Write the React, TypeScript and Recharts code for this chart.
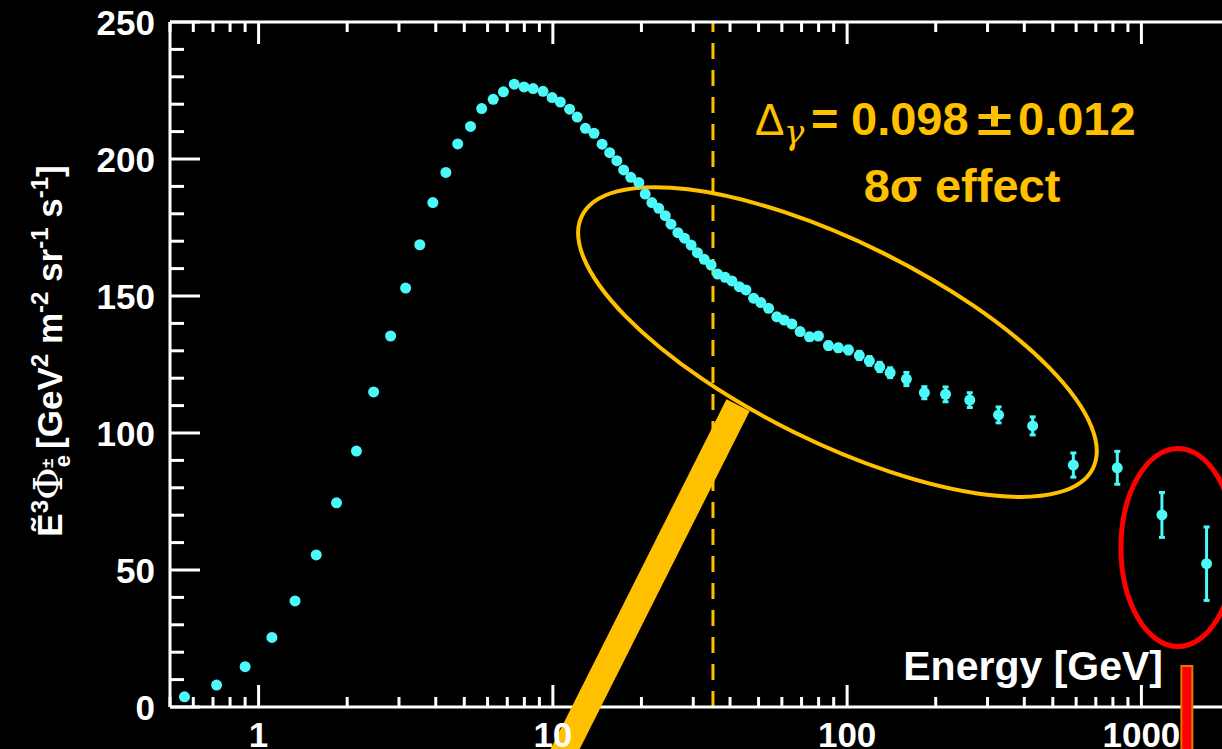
import { ComposedChart, Scatter, ErrorBar, XAxis, YAxis, ReferenceLine, ReferenceDot } from 'recharts';

const energies = [0.56, 0.72, 0.90, 1.11, 1.33, 1.57, 1.84, 2.15, 2.46, 2.81, 3.16, 3.53, 3.91, 4.33, 4.75, 5.25, 5.73, 6.27, 6.79, 7.39,
  7.98, 8.57, 9.26, 9.94, 10.6, 11.4, 12.1, 12.9, 13.8, 14.7, 15.6, 16.5, 17.4, 18.4, 19.6, 20.6, 21.7, 22.9, 24.1, 25.2,
  26.6, 28.0, 29.5, 31.0, 32.7, 34.5, 36.3, 38.5, 40.6, 43.0, 45.3, 48.1, 50.9, 54.1, 57.7, 61.1, 64.9, 69.2, 74.5, 79.9,
  86.4, 93.4, 101, 110, 119, 129, 140, 159, 183, 216, 261, 327, 427, 587, 828, 1174, 1665];
const fluxes = [3.7, 8.0, 14.7, 25.4, 38.7, 55.5, 74.5, 93.4, 115.0, 135.4, 152.9, 168.7, 184.1, 195.1, 205.5, 211.9, 218.4, 221.8, 224.5, 227.3,
  226.3, 225.7, 224.7, 222.4, 220.8, 218.2, 215.3, 211.2, 209.4, 205.4, 202.3, 199.4, 196.0, 193.3, 191.4, 187.2, 184.1, 182.0, 179.3, 176.2,
  173.1, 171.1, 168.6, 165.8, 163.4, 161.3, 158.0, 156.8, 155.5, 153.4, 152.2, 149.2, 147.6, 145.5, 142.4, 141.2, 139.8, 137.0, 135.1, 135.4,
  131.9, 131.1, 130.3, 128.3, 126.3, 124.1, 122.0, 119.7, 114.7, 114.1, 112.0, 106.6, 102.6, 88.3, 87.3, 70.1, 52.3];
const errors = [0.1, 0.1, 0.2, 0.3, 0.4, 0.5, 0.5, 0.6, 0.7, 0.8, 0.8, 0.8, 0.8, 0.8, 0.8, 0.8, 0.8, 0.8, 0.8, 0.8,
  0.8, 0.8, 0.8, 0.8, 0.8, 0.8, 0.8, 0.8, 0.8, 0.8, 0.8, 0.8, 0.8, 0.8, 0.8, 0.8, 0.8, 0.8, 0.8, 0.8,
  0.8, 0.8, 0.8, 0.8, 0.8, 0.8, 0.8, 0.8, 0.8, 0.8, 0.9, 0.9, 0.9, 1.0, 1.0, 1.0, 1.1, 1.1, 1.2, 1.2,
  1.3, 1.3, 1.4, 1.5, 1.6, 1.7, 1.8, 2.4, 2.2, 2.7, 2.7, 2.9, 3.3, 4.4, 6.0, 8.2, 13.4];

const xTicks = [0.5, 0.6, 0.7, 0.8, 0.9, 1, 2, 3, 4, 5, 6, 7, 8, 9, 10, 20, 30, 40, 50, 60, 70, 80, 90, 100,
  200, 300, 400, 500, 600, 700, 800, 900, 1000, 2000];
const xMajor = [1, 10, 100, 1000];
const yTicks = [0, 10, 20, 30, 40, 50, 60, 70, 80, 90, 100, 110, 120, 130, 140, 150, 160, 170, 180, 190, 200, 210, 220, 230, 240, 250];
const yMajor = [0, 50, 100, 150, 200, 250];

const breakEnergy = 35; // dashed line
const ellipseCenter = { e: 92.7, v: 133.2 };
const redCenter = { e: 1331, v: 58.2 };
const pointerBar = [{ x: 42.6, y: 110.2 }, { x: 9.4, y: -30 }];
const redBar = [{ x: 1427, y: 15.3 }, { x: 1427, y: -30 }];
const redBarInner = [{ x: 1427, y: 14.6 }, { x: 1427, y: -30 }];

const points = energies.map((e, i) => ({ e, v: fluxes[i], err: errors[i] }));

const CYAN = '#4DF8F8';
const GOLD = '#FFC000';
const FONT = '"Liberation Sans", Arial, Helvetica, sans-serif';

const BottomTick = ({ x, y, payload }: any) => {
  const major = xMajor.includes(payload.value);
  return (
    <g>
      <line x1={x} x2={x} y1={y} y2={y - (major ? 22 : 10)} stroke="#fff" strokeWidth={3} />
      {major && <text x={x} y={y + 40} textAnchor="middle" fill="#fff" fontSize={35} fontWeight="bold" fontFamily={FONT}>{payload.value}</text>}
    </g>
  );
};
const TopTick = ({ x, y, payload }: any) => {
  const major = xMajor.includes(payload.value);
  return <line x1={x} x2={x} y1={y} y2={y + (major ? 22 : 10)} stroke="#fff" strokeWidth={3} />;
};
const LeftTick = ({ x, y, payload }: any) => {
  const major = yMajor.includes(payload.value);
  return (
    <g>
      <line x1={x} x2={x + (major ? 30 : 14)} y1={y} y2={y} stroke="#fff" strokeWidth={3} />
      {major && <text x={x - 15} y={y + 12.5} textAnchor="end" fill="#fff" fontSize={35} fontWeight="bold" fontFamily={FONT}>{payload.value}</text>}
    </g>
  );
};
const RightTick = ({ x, y, payload }: any) => {
  const major = yMajor.includes(payload.value);
  return <line x1={x} x2={x - (major ? 30 : 14)} y1={y} y2={y} stroke="#fff" strokeWidth={3} />;
};

const Dot = (p: any) => <circle cx={p.cx} cy={p.cy} r={5.5} fill={CYAN} />;

const axisLine = { stroke: '#fff', strokeWidth: 3 };

const App = () => {
  return (
    <div style={{ position: 'absolute', left: 0, top: 0, width: 1222, height: 749, overflow: 'hidden', background: '#000', fontFamily: FONT }}>
      <ComposedChart width={1260} height={780} data={points} margin={{ top: 2, right: 10, bottom: 33, left: 110 }}>
        <XAxis dataKey="e" type="number" scale="log" domain={[0.5, 2000]} allowDataOverflow ticks={xTicks} interval={0}
          height={40} tickSize={0} tickMargin={0} tickLine={false} axisLine={axisLine} tick={<BottomTick />} />
        <XAxis xAxisId="top" orientation="top" dataKey="e" type="number" scale="log" domain={[0.5, 2000]} allowDataOverflow ticks={xTicks} interval={0}
          height={20} tickSize={0} tickMargin={0} tickLine={false} axisLine={axisLine} tick={<TopTick />} />
        <YAxis dataKey="v" type="number" domain={[0, 250]} ticks={yTicks} interval={0}
          width={60} tickSize={0} tickMargin={0} tickLine={false} axisLine={axisLine} tick={<LeftTick />} />
        <YAxis yAxisId="right" orientation="right" type="number" domain={[0, 250]} ticks={yTicks} interval={0}
          width={20} tickSize={0} tickMargin={0} tickLine={false} axisLine={axisLine} tick={<RightTick />} />
        <ReferenceLine x={breakEnergy} stroke={GOLD} strokeWidth={3} strokeDasharray="16 11" />
        <ReferenceLine segment={pointerBar} stroke={GOLD} strokeWidth={26} ifOverflow="visible" zIndex={1500} />
        <ReferenceLine segment={redBar} stroke="#E07800" strokeWidth={13} ifOverflow="visible" zIndex={1500} />
        <ReferenceLine segment={redBarInner} stroke="#FF0000" strokeWidth={9} ifOverflow="visible" zIndex={1501} />
        <ReferenceDot x={ellipseCenter.e} y={ellipseCenter.v} ifOverflow="visible"
          shape={(p: any) => <ellipse cx={p.cx} cy={p.cy} rx={285} ry={100} transform={`rotate(26.3 ${p.cx} ${p.cy})`} fill="none" stroke={GOLD} strokeWidth={4} />} />
        <ReferenceDot x={redCenter.e} y={redCenter.v} ifOverflow="visible"
          shape={(p: any) => <ellipse cx={p.cx} cy={p.cy} rx={57} ry={99} fill="none" stroke="#FF0000" strokeWidth={5} />} />
        <Scatter data={points} isAnimationActive={false} shape={<Dot />}>
          <ErrorBar dataKey="err" direction="y" width={3} strokeWidth={3} stroke={CYAN} />
        </Scatter>
      </ComposedChart>
      <svg width={1222} height={749} style={{ position: 'absolute', left: 0, top: 0, pointerEvents: 'none' }} fontFamily={FONT}>
        <g fill={GOLD}>
          <text x={755} y={135} fontSize={44}>Δ</text>
          <text x={784} y={144} fontSize={34} fontFamily='"DejaVu Serif", serif' fontStyle="italic">γ</text>
          <text x={811} y={135} fontSize={47} fontWeight="bold">=</text>
          <text x={851} y={135} fontSize={47} fontWeight="bold">0.098</text>
          <text x={977} y={135} fontSize={47} fontWeight="bold" textLength={35} lengthAdjust="spacingAndGlyphs">±</text>
          <text x={1018} y={135} fontSize={47} fontWeight="bold">0.012</text>
          <text x={962} y={202} fontSize={47} fontWeight="bold" textAnchor="middle">8σ effect</text>
        </g>
        <text x={1163} y={680} fill="#fff" fontSize={41} fontWeight="bold" textAnchor="end">Energy [GeV]</text>
        <text transform="translate(62,351) rotate(-90)" textAnchor="middle" fill="#fff" fontSize={35} fontWeight="bold">
          <tspan>Ẽ</tspan>
          <tspan fontSize={24} dy={-14}>3</tspan>
          <tspan fontWeight="normal" fontFamily='"DejaVu Serif", serif' fontSize={40} dy={14}>Φ</tspan>
          <tspan fontSize={22} dy={8}>e</tspan>
          <tspan fontSize={17} dx={-13} dy={-17}>±</tspan>
          <tspan dy={9}>  [GeV</tspan>
          <tspan fontSize={24} dy={-14}>2</tspan>
          <tspan dy={14}> m</tspan>
          <tspan fontSize={24} dy={-14}>-2</tspan>
          <tspan dy={14}> sr</tspan>
          <tspan fontSize={24} dy={-14}>-1</tspan>
          <tspan dy={14}> s</tspan>
          <tspan fontSize={24} dy={-14}>-1</tspan>
          <tspan dy={14}>]</tspan>
        </text>
      </svg>
    </div>
  );
};

export default App;
